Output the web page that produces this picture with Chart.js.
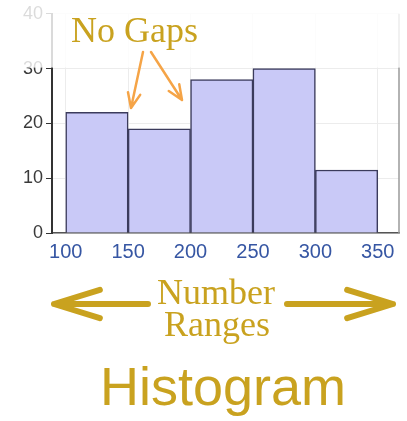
<!DOCTYPE html>
<html>
<head>
<meta charset="utf-8">
<script src="https://cdn.jsdelivr.net/npm/chart.js@4/dist/chart.umd.min.js"></script>
<style>
  body { margin: 0; background: #fff; }
</style>
</head>
<body>
<canvas id="myChart" width="407" height="421"></canvas>
<script>
// dati dell'istogramma
var binEdges = [100, 150, 200, 250, 300, 350];
var counts = [22, 19, 28, 30, 11.5];
var xTicks = [100, 150, 200, 250, 300, 350];
var yTicks = [0, 10, 20, 30, 40];
var xMin = 89;
var xMax = 367;

var gold = '#c9a21f';

// punti al centro di ogni intervallo
var punti = [];
for (var i = 0; i < counts.length; i++) {
  punti.push({ x: (binEdges[i] + binEdges[i + 1]) / 2, y: counts[i] });
}

function freccia(ctx, x1, y1, x2, y2, head, spread, color, width) {
  var ang = Math.atan2(y2 - y1, x2 - x1);
  ctx.save();
  ctx.strokeStyle = color;
  ctx.lineWidth = width;
  ctx.lineCap = 'round';
  ctx.lineJoin = 'round';
  ctx.beginPath();
  ctx.moveTo(x1, y1);
  ctx.lineTo(x2, y2);
  ctx.moveTo(x2 - head * Math.cos(ang - spread), y2 - head * Math.sin(ang - spread));
  ctx.lineTo(x2, y2);
  ctx.lineTo(x2 - head * Math.cos(ang + spread), y2 - head * Math.sin(ang + spread));
  ctx.stroke();
  ctx.restore();
}

// scritte e frecce disegnate sopra il grafico
var notePlugin = {
  id: 'note',
  afterDraw: function(chart) {
    var ctx = chart.ctx;
    var area = chart.chartArea;
    var y30 = chart.scales.y.getPixelForValue(30);

    // bordo destro
    ctx.save();
    ctx.strokeStyle = '#9a9a9a';
    ctx.lineWidth = 1.5;
    ctx.beginPath();
    ctx.moveTo(area.right, area.top);
    ctx.lineTo(area.right, area.bottom);
    ctx.stroke();
    ctx.restore();

    // parte alta sbiadita
    ctx.save();
    ctx.fillStyle = 'rgba(255,255,255,0.82)';
    ctx.fillRect(0, 0, chart.width, y30 - 1);
    ctx.restore();

    ctx.save();
    ctx.fillStyle = gold;
    ctx.textBaseline = 'alphabetic';
    ctx.textAlign = 'left';
    ctx.font = '36px "Liberation Serif"';
    ctx.fillText('No Gaps', 71, 42);
    ctx.textAlign = 'center';
    ctx.font = '36px "Liberation Serif"';
    ctx.fillText('Number', 216, 304);
    ctx.fillText('Ranges', 217, 336);
    ctx.font = '54px "Liberation Sans"';
    ctx.fillText('Histogram', 223, 405);
    ctx.restore();

    freccia(ctx, 143, 52, 131, 108, 16, 0.4, '#f5a447', 2.5);
    freccia(ctx, 151, 52, 182, 100, 16, 0.4, '#f5a447', 2.5);
    freccia(ctx, 148, 304, 54, 304, 48, 0.3, gold, 6);
    freccia(ctx, 287, 304, 393, 304, 48, 0.3, gold, 6);
  }
};

var ctx = document.getElementById('myChart');
var chart = new Chart(ctx, {
  type: 'bar',
  data: {
    datasets: [{
      data: punti,
      backgroundColor: '#c9c9f7',
      borderColor: '#3b3b5c',
      borderWidth: 1.5,
      barPercentage: 1,
      categoryPercentage: 1
    }]
  },
  options: {
    responsive: false,
    animation: false,
    layout: { padding: { top: 13, right: 8, left: 0, bottom: 0 } },
    plugins: {
      legend: { display: false },
      tooltip: { enabled: false }
    },
    scales: {
      x: {
        type: 'linear',
        min: xMin,
        max: xMax,
        offset: false,
        afterBuildTicks: function(axis) {
          axis.ticks = xTicks.map(function(v) { return { value: v }; });
        },
        afterFit: function(scale) { scale.height = 421 - 233; },
        ticks: {
          color: '#3656a3',
          font: { family: 'Liberation Sans', size: 20 },
          padding: 7,
          maxRotation: 0,
          autoSkip: false
        },
        grid: { color: '#ececec', tickLength: 0, offset: false },
        border: { color: '#555555', width: 1.5 }
      },
      y: {
        min: 0,
        max: 40,
        afterBuildTicks: function(axis) {
          axis.ticks = yTicks.map(function(v) { return { value: v }; });
        },
        afterFit: function(scale) { scale.width = 52; },
        ticks: {
          color: '#3a3a3a',
          font: { family: 'Liberation Sans', size: 18 },
          padding: 3
        },
        grid: { color: '#ececec', tickLength: 6, tickColor: '#333333' },
        border: { color: '#333333', width: 2 }
      }
    }
  },
  plugins: [notePlugin]
});
</script>
</body>
</html>
